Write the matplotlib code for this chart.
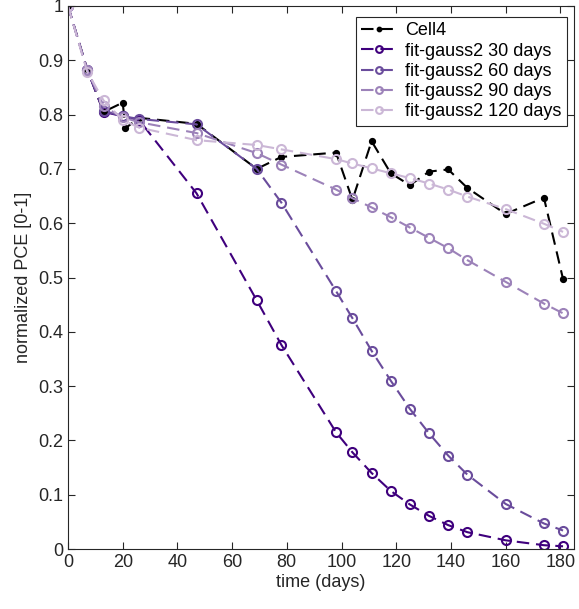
import matplotlib
matplotlib.use("Agg")
import matplotlib.pyplot as plt

plt.rcParams['font.family'] = ['Liberation Sans', 'DejaVu Sans']

# ------------------------------
# Measured data (Cell4)
# ------------------------------
t_cell = [0, 7, 13, 20, 21, 26, 47, 69, 78, 98, 104, 111, 118, 125, 132, 139, 146, 160, 174, 181]
pce_cell = [1.0, 0.884, 0.805, 0.822, 0.775, 0.794, 0.783, 0.700, 0.722, 0.730, 0.643, 0.751,
            0.692, 0.670, 0.695, 0.699, 0.665, 0.617, 0.647, 0.497]

# ------------------------------
# gauss2 fits, evaluated at the measurement days
# ------------------------------
t_fit = [0, 7, 13, 20, 26, 47, 69, 78, 98, 104, 111, 118, 125, 132, 139, 146, 160, 174, 181]
fit_30 = [1.0, 0.883, 0.805, 0.797, 0.790, 0.655, 0.458, 0.376, 0.215, 0.178, 0.140, 0.107,
          0.082, 0.061, 0.044, 0.031, 0.016, 0.007, 0.005]
fit_60 = [1.0, 0.883, 0.807, 0.797, 0.792, 0.782, 0.700, 0.638, 0.475, 0.425, 0.365, 0.310,
          0.258, 0.213, 0.172, 0.137, 0.083, 0.047, 0.034]
fit_90 = [1.0, 0.883, 0.815, 0.795, 0.786, 0.766, 0.729, 0.708, 0.662, 0.646, 0.629, 0.611,
          0.592, 0.573, 0.554, 0.532, 0.492, 0.452, 0.434]
fit_120 = [1.0, 0.879, 0.826, 0.790, 0.776, 0.753, 0.744, 0.736, 0.718, 0.710, 0.701, 0.692,
           0.683, 0.673, 0.662, 0.649, 0.626, 0.599, 0.584]

fit_labels = ["fit-gauss2 30 days", "fit-gauss2 60 days", "fit-gauss2 90 days", "fit-gauss2 120 days"]
fit_colors = ["#3f007d", "#6a4c9c", "#9c82b9", "#cbb7d6"]

# ------------------------------
# Plotting
# ------------------------------
fig = plt.figure(figsize=(5.79, 6.09), dpi=100)
ax = fig.add_axes([68 / 579, 1 - 549 / 609, (574 - 68) / 579, (549 - 6) / 609])

dash = (0, (6, 3.3))
ax.plot(t_cell, pce_cell, color="k", linestyle=dash, linewidth=1.5,
        marker="o", markersize=4.2, label="Cell4")

for vals, label, c in zip([fit_30, fit_60, fit_90, fit_120], fit_labels, fit_colors):
    ax.plot(t_fit, vals, color=c, linestyle=dash, linewidth=1.5,
            marker="o", markersize=6.5, markerfacecolor="none", markeredgewidth=1.5,
            label=label)

ax.set_xlim(0, 185)
ax.set_ylim(0, 1)
ax.set_xticks(range(0, 181, 20))
ax.set_yticks([i / 10 for i in range(11)])
ax.set_yticklabels(["0", "0.1", "0.2", "0.3", "0.4", "0.5", "0.6", "0.7", "0.8", "0.9", "1"])
ax.tick_params(direction="in", top=True, right=True, length=5, labelsize=13,
               colors="#262626", width=0.8)
for s in ax.spines.values():
    s.set_color("#262626")
    s.set_linewidth(0.8)

ax.set_xlabel("time (days)", fontsize=13, color="#262626", labelpad=2)
ax.set_ylabel("normalized PCE [0-1]", fontsize=13, color="#262626", labelpad=4)

leg = ax.legend(loc="upper right", bbox_to_anchor=(567 / 579, 1 - 17 / 609),
                bbox_transform=fig.transFigure, fontsize=13, handlelength=2.0,
                handletextpad=0.45, labelspacing=0.18, borderpad=0.3, markerscale=0.75,
                borderaxespad=0, fancybox=False, framealpha=1)
leg.get_frame().set_edgecolor("#262626")
leg.get_frame().set_linewidth(0.8)

fig.savefig("out.png", dpi=100)
